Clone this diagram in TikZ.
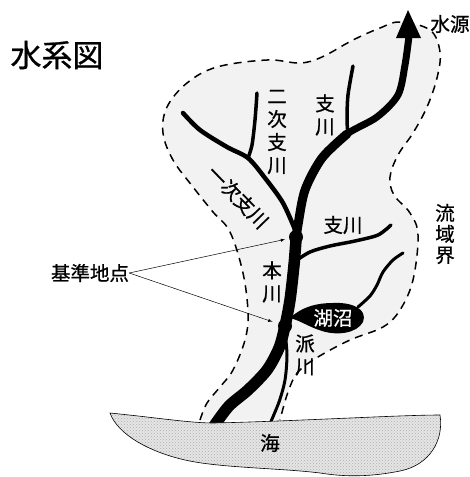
\documentclass[tikz,border=0pt]{standalone}
\usepackage{fontspec}
\setmainfont{Noto Sans CJK JP}[RawFeature={embolden=0.8}]
\usetikzlibrary{patterns}

\begin{document}
\begin{tikzpicture}[x=1pt, y=-1pt, >=latex]
    % Styles
    \tikzstyle{txt} = [font=\fontsize{19.5}{23}\selectfont, inner sep=0pt, align=center]
    \tikzstyle{river} = [line cap=round, line join=round]
    \tikzstyle{border} = [line width=1.5pt, dash pattern=on 8pt off 6pt]
    \tikzstyle{point} = [circle, fill, inner sep=0pt, minimum size=14pt]

    \useasboundingbox (0,0) rectangle (470,477);

    % Basin and its divide
    \draw[border, fill=black!5] plot[smooth, tension=0.6] coordinates {
        (200,420) (207,403) (220,387) (233,370) (245,340) (248,313) (243,273)
        (230,232) (213,212) (193,187) (173,160) (163,133) (167,107) (187,83)
        (217,67) (267,60) (300,63) (322,57) (353,40) (380,28) (400,22)
        (430,30) (440,52) (437,78) (427,107) (413,133) (398,155) (390,177)
        (394,195) (410,213) (418,235) (413,280) (400,310) (383,327) (350,340)
        (318,357) (298,372) (288,392) (280,420)};

    % Main river, widening downstream
    \draw[river, line width=7pt] plot[smooth] coordinates {
        (409,36) (405,65) (398,95) (377,117) (347,134) (322,158)};
    \draw[river, line width=9pt] plot[smooth] coordinates {
        (347,134) (322,158) (305,190) (298,225) (296,240) (294,265)};
    \draw[river, line width=11.5pt] plot[smooth] coordinates {
        (296,240) (294,265) (290,300) (285,326) (279,348) (267,370)
        (248,390) (229,406) (214,426)};

    % Tributaries
    \draw[river, line width=4.5pt] plot[smooth] coordinates {
        (183,113) (200,130) (227,147) (248,158) (265,178) (283,203) (296,232)};
    \draw[river, line width=3.5pt] plot[smooth] coordinates {
        (257,93) (255,120) (252,145) (248,158)};
    \draw[river, line width=3.5pt] plot[smooth] coordinates {
        (353,66) (348,95) (347,120) (348,134)};
    \draw[river, line width=3.5pt] plot[smooth] coordinates {
        (294,262) (310,252) (330,246) (355,241) (378,235) (391,225)};
    \draw[river, line width=3pt] plot[smooth] coordinates {
        (358,307) (370,296) (377,285) (383,272) (393,260) (403,253)};
    % Distributary
    \draw[river, line width=3pt] plot[smooth] coordinates {
        (285,332) (287,355) (285,380) (279,402) (269,426)};

    % Lake
    \fill (290,318) .. controls (303,306) and (318,303) .. (333,303)
        .. controls (352,302) and (368,309) .. (363,322)
        .. controls (357,333) and (338,336) .. (322,331)
        .. controls (309,327) and (299,320) .. (290,318) -- cycle;

    % Source and gauging points
    \fill (408,10) -- (421,38) -- (396,38) -- cycle;
    \node[point] (kijun1) at (296,237) {};
    \node[point] (kijun2) at (285,326) {};

    % Sea
    \draw[line width=0.6pt, preaction={fill=black!10}, pattern=crosshatch dots, pattern color=black!32]
        (110,413) .. controls (160,418) and (190,423) .. (214,423)
        .. controls (300,421) and (400,415) .. (440,415)
        .. controls (444,440) and (430,465) .. (400,471)
        .. controls (370,477) and (345,477) .. (320,473)
        .. controls (280,468) and (220,468) .. (185,460)
        .. controls (150,452) and (118,435) .. (110,413) -- cycle;

    % Labels
    \node[txt, font=\fontsize{31}{34}\selectfont] (title) at (57,55) {水系図};
    \node[txt] (source) at (450,24) {水源};
    \node[txt] (niji) at (277,132) {二\\次\\支\\川};
    \node[txt] (shisen1) at (325,115) {支\\川};
    \node[txt, rotate=-46] (ichiji) at (238,197) {一次支川};
    \node[txt] (shisen2) at (343,225) {支川};
    \node[txt, font=\fontsize{19.5}{21}\selectfont] (divide) at (445,234) {流\\域\\界};
    \node[txt] (hon) at (272,282) {本\\川};
    \node[txt, text=white] (lake) at (333,318) {湖沼};
    \node[txt] (ha) at (305,355) {派\\川};
    \node[txt] (sea) at (270,443) {海};
    \node[txt] (kijun) at (90,273) {基準地点};

    % Leaders
    \draw[->, line width=0.5pt, shorten >=4pt] (kijun.east) -- (kijun1);
    \draw[->, line width=0.5pt, shorten >=6pt] (kijun.east) -- (kijun2);
\end{tikzpicture}
\end{document}
